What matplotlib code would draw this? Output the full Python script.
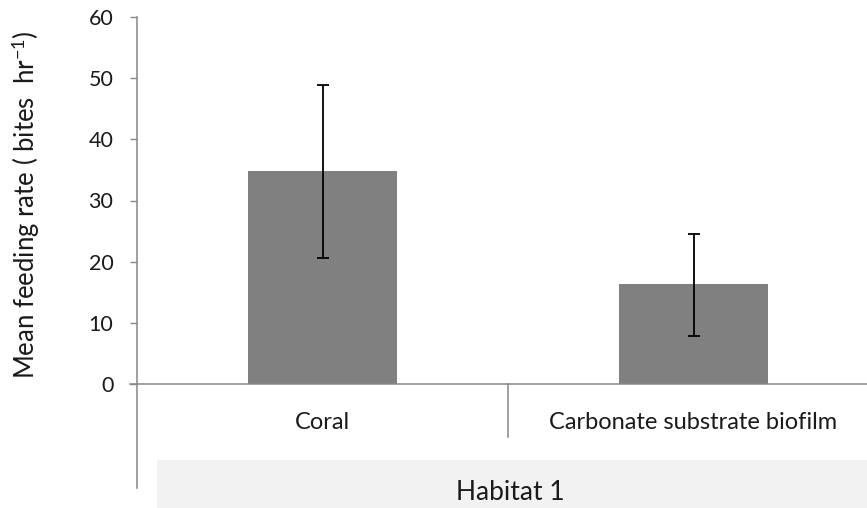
import matplotlib
matplotlib.use("Agg")
import matplotlib.pyplot as plt
import matplotlib.transforms as mtransforms
from matplotlib.patches import Rectangle

categories = ["Coral", "Carbonate substrate biofilm"]
means = [34.9, 16.3]
err_low = [20.6, 7.9]
err_high = [48.9, 24.5]
group_label = "Habitat 1"
y_ticks = [0, 10, 20, 30, 40, 50, 60]

plt.rcParams['font.family'] = ['Lato', 'DejaVu Sans']
plt.rcParams['mathtext.fontset'] = 'custom'
plt.rcParams['mathtext.rm'] = 'Lato'
plt.rcParams['mathtext.it'] = 'Lato:italic'

W, H = 867, 508
fig = plt.figure(figsize=(W / 100, H / 100), dpi=100)
x0, x1 = 137, 879
ytop, ybot = 17, 384
ax = fig.add_axes([x0 / W, (H - ybot) / H, (x1 - x0) / W, (ybot - ytop) / H])

xs = list(range(len(categories)))
yerr = [[m - l for m, l in zip(means, err_low)], [h - m for m, h in zip(means, err_high)]]
ax.bar(xs, means, width=0.40, color="#808080", zorder=2)
ax.errorbar(xs, means, yerr=yerr, fmt="none", ecolor="black", elinewidth=1.3,
            capsize=4.5, capthick=1.3, zorder=3)

ax.set_xlim(-0.5, len(categories) - 0.5)
ax.set_ylim(0, 60)
ax.set_yticks(y_ticks)
ax.set_yticklabels([str(t) for t in y_ticks], fontsize=15.5, color="#1a1a1a")
ax.tick_params(axis='y', length=5, color="#868686", width=1, pad=12)
ax.set_xticks([])
for s in ax.spines.values():
    s.set_visible(False)

gray = "#868686"
trans = mtransforms.blended_transform_factory(ax.transData, ax.transAxes)
ax.plot([-0.5, -0.5], [1.0, -0.2834], transform=trans, color=gray, lw=1.1, clip_on=False)
ax.plot([-0.52, len(categories) - 0.5], [0, 0], transform=trans, color=gray, lw=1.1, clip_on=False)
for b in range(len(categories)):
    ax.plot([b + 0.5, b + 0.5], [0, -0.1444], transform=trans, color=gray, lw=1.1, clip_on=False)
for x, c in zip(xs, categories):
    ax.text(x, -0.104, c, transform=trans, ha='center', va='center', fontsize=17, color="#1a1a1a")

ax.add_patch(Rectangle((-0.447, -0.338), 2.0, 0.131, transform=trans, facecolor="#f2f2f2",
                       edgecolor="none", clip_on=False))
fig.text(510 / W, (H - 492) / H, group_label, ha='center', va='center',
         fontsize=19, color="#1a1a1a")

fig.text(26 / W, (H - 205) / H, "Mean feeding rate ( bites  hr$^{-1}$)", rotation=90,
         ha='center', va='center', fontsize=18.5, color="#1a1a1a")

fig.savefig("out.png", dpi=100)
